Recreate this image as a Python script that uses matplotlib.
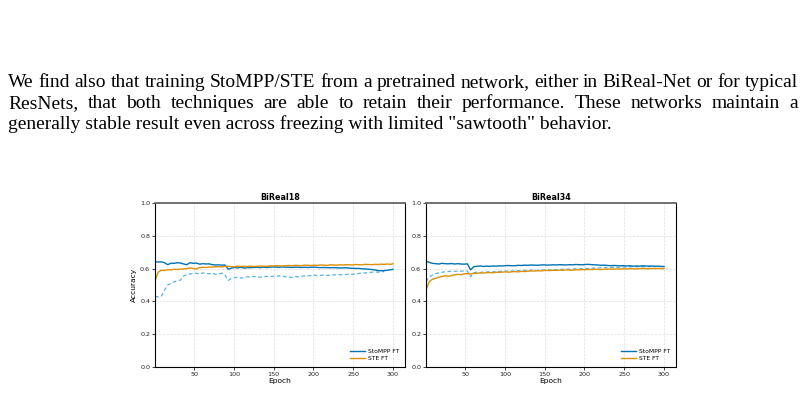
import numpy as np
import matplotlib
matplotlib.use('Agg')
import matplotlib.pyplot as plt

nan = np.nan

# epochs sampled every 4 epochs, plus the last one
epochs = list(range(1, 298, 4)) + [300]

# ---------------- BiReal18 ----------------
stompp18 = [.642, .640, .641, .636, .624, .633, .632, .636, .634, .628,
            .624, .636, .632, .634, .627, .630, .628, .629, .624, .622,
            .623, .621, .622, .596, .603, .607, .604, .608, .603, .606,
            .606, .607, .608, .606, .609, .607, .608, .610, .609, .608,
            .610, .609, .608, .607, .609, .608, .607, .608, .607, .608,
            .609, .607, .606, .607, .606, .605, .606, .605, .604, .604,
            .605, .603, .602, .601, .601, .599, .598, .596, .595, .592,
            .588, .587, .588, .590, .593, .596]
ste18 = [.525, .578, .590, .588, .593, .592, .596, .595, .597, .598,
         .600, .604, .601, .598, .606, .608, .607, .610, .609, .611,
         .612, .610, .613, .614, .612, .611, .615, .613, .614, .612,
         .615, .613, .614, .616, .615, .614, .617, .616, .618, .617,
         .616, .618, .619, .617, .620, .619, .618, .621, .620, .619,
         .621, .620, .622, .621, .620, .623, .622, .621, .623, .622,
         .624, .623, .622, .625, .624, .623, .626, .625, .624, .626,
         .625, .627, .626, .628, .626, .630]
dash18 = [.430, .428, .432, .470, .500, .510, .520, .525, .530, .556,
          .562, .568, .570, .572, .566, .574, .570, .568, .572, .565,
          .568, .572, .560, .528, .540, .545, .548, .542, .546, .550,
          .548, .552, .550, .547, .551, .553, .550, .554, .552, .556,
          .554, .550, .548, .546, .552, .550, .553, .556, .555, .558,
          .560, .557, .559, .561, .558, .560, .562, .561, .563, .562,
          .564, .566, .565, .568, .570, .572, .574, .575, .578, .580,
          .578, .580, .582, nan, nan, nan]

# ---------------- BiReal34 ----------------
stompp34 = [.645, .638, .632, .630, .628, .632, .630, .629, .631, .628,
            .630, .628, .627, .629, .592, .612, .614, .616, .613, .615,
            .614, .616, .615, .617, .616, .618, .619, .617, .618, .620,
            .619, .621, .620, .622, .621, .620, .622, .623, .621, .622,
            .623, .622, .624, .623, .622, .624, .623, .625, .624, .623,
            .625, .626, .624, .623, .622, .620, .621, .619, .618, .619,
            .618, .617, .618, .616, .617, .615, .616, .615, .617, .616,
            .615, .616, .614, .615, .613, .613]
ste34 = [.470, .520, .535, .540, .548, .552, .556, .553, .558, .562,
         .565, .563, .568, .570, .566, .572, .571, .574, .573, .575,
         .576, .574, .578, .577, .579, .580, .578, .581, .582, .580,
         .583, .582, .584, .586, .585, .587, .586, .588, .589, .588,
         .590, .589, .591, .590, .592, .591, .590, .593, .592, .594,
         .593, .595, .594, .596, .595, .594, .597, .596, .598, .597,
         .598, .597, .599, .598, .600, .599, .598, .600, .601, .600,
         .599, .601, .600, .601, .600, .600]
dash34 = [.520, .548, .560, .568, .575, .578, .580, .582, .584, .583,
          .585, .584, .586, .585, .550, .575, .578, .576, .580, .579,
          .581, .580, .583, .582, .585, .584, .586, .585, .588, .587,
          .588, .589, .587, .590, .591, .589, .592, .591, .593, .592,
          .594, .593, .595, .596, .597, .596, .598, .599, .598, .600,
          .601, .600, .602, .603, .604, .605, .606, .605, .607, .608,
          .607, .609, .610, .609, .611, .612, .611, .613, .612, .611,
          .612, .613, .612, nan, nan, nan]

titles = ['BiReal18', 'BiReal34']
legend_labels = ['StoMPP FT', 'STE FT']
yticks = [0.0, 0.2, 0.4, 0.6, 0.8, 1.0]
xticks = [50, 100, 150, 200, 250, 300]

blue = '#0173B2'
orange = '#DE8F05'
light = '#56B4E9'

paragraph = [
    'We find also that training StoMPP/STE from a pretrained network, either in BiReal-Net or for typical',
    'ResNets, that both techniques are able to retain their performance.  These networks maintain a',
    'generally stable result even across freezing with limited "sawtooth" behavior.',
]

fig = plt.figure(figsize=(8.05, 3.95), dpi=100)
renderer = fig.canvas.get_renderer()

# justified paragraph text
txt_kw = dict(fontsize=14.0, family='Liberation Serif', color='black', va='baseline')
left_px, right_px = 8, 798
baselines = [87, 108, 129]
for n, line in enumerate(paragraph):
    y = 1 - baselines[n] / 395
    if n == len(paragraph) - 1:
        fig.text(left_px / 805, y, line, **txt_kw)
        continue
    words = line.split()
    widths = []
    for w in words:
        t = fig.text(0, 0, w, **txt_kw)
        widths.append(t.get_window_extent(renderer).width)
        t.remove()
    gap = (right_px - left_px - sum(widths)) / (len(words) - 1)
    x = left_px
    for w, wd in zip(words, widths):
        fig.text(x / 805, y, w, **txt_kw)
        x += wd + gap

data = [(stompp18, ste18, dash18), (stompp34, ste34, dash34)]
lefts = [155 / 805, 426 / 805]
for k in range(2):
    ax = fig.add_axes([lefts[k], 1 - 367 / 395, 250 / 805, 164 / 395])
    s, e, d = data[k]
    ax.plot(epochs, d, color=light, lw=0.9, ls=(0, (3, 2)))
    ax.plot(epochs, s, color=blue, lw=1.0, label=legend_labels[0])
    ax.plot(epochs, e, color=orange, lw=1.0, label=legend_labels[1])
    ax.set_xlim(1, 315)
    ax.set_ylim(0, 1)
    ax.set_xticks(xticks)
    ax.set_yticks(yticks)
    ax.grid(True, ls='--', lw=0.5, color='#dddddd')
    ax.tick_params(labelsize=4.6, length=2, width=0.6, pad=1.5, colors='#222222')
    for sp in ax.spines.values():
        sp.set_linewidth(0.8)
    ax.spines['top'].set_color('#666666')
    ax.spines['top'].set_linewidth(1.3)
    ax.set_title(titles[k], fontsize=5.8, fontweight='bold', pad=2)
    ax.set_xlabel('Epoch', fontsize=5.4, labelpad=1)
    if k == 0:
        ax.set_ylabel('Accuracy', fontsize=5.4, labelpad=2)
    ax.legend(loc='lower right', fontsize=4.3, frameon=False, handlelength=2.5,
              handletextpad=0.4, borderaxespad=0.6, labelspacing=0.3)

fig.savefig('out.png', dpi=100)
